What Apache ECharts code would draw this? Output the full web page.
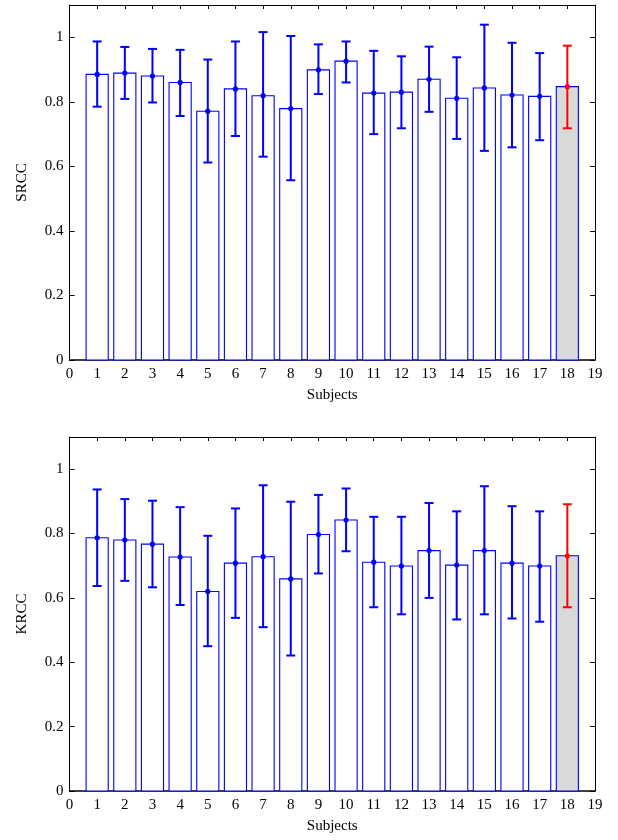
<!DOCTYPE html>
<html>
<head>
<meta charset="utf-8">
<script src="https://cdn.jsdelivr.net/npm/echarts@6/dist/echarts.min.js"></script>
<style>html,body{margin:0;padding:0;background:#fff}#c{width:618px;height:840px}</style>
</head>
<body>
<div id="c"></div>
<script>
var subjects = [1,2,3,4,5,6,7,8,9,10,11,12,13,14,15,16,17,18];
var xTicks = [0,1,2,3,4,5,6,7,8,9,10,11,12,13,14,15,16,17,18,19];
var yTicks = [0,0.2,0.4,0.6,0.8,1];

var srccMean  = [0.885,0.889,0.880,0.860,0.771,0.840,0.819,0.779,0.899,0.926,0.827,0.830,0.870,0.811,0.843,0.821,0.817,0.847];
var srccUpper = [0.987,0.970,0.964,0.961,0.931,0.987,1.016,1.004,0.978,0.987,0.958,0.941,0.971,0.938,1.039,0.983,0.951,0.974];
var srccLower = [0.785,0.809,0.798,0.756,0.612,0.694,0.630,0.557,0.824,0.860,0.700,0.718,0.769,0.685,0.648,0.659,0.681,0.718];

var krccMean  = [0.787,0.780,0.767,0.727,0.620,0.708,0.728,0.659,0.797,0.842,0.711,0.699,0.747,0.702,0.747,0.708,0.699,0.731];
var krccUpper = [0.937,0.907,0.902,0.882,0.793,0.878,0.950,0.899,0.920,0.940,0.852,0.852,0.895,0.869,0.947,0.885,0.869,0.891];
var krccLower = [0.637,0.653,0.633,0.578,0.450,0.538,0.509,0.421,0.676,0.745,0.571,0.549,0.600,0.533,0.549,0.536,0.526,0.571];

var highlight = 18;
var FONT = 'Liberation Serif';
var BLUE = '#0000ff', RED = '#ff0000', GREY = '#d9d9d9';

function toData(m, u, l) {
  return subjects.map(function (s, i) { return [s, m[i], u[i], l[i]]; });
}

var chart = echarts.init(document.getElementById('c'), null, {renderer: 'canvas'});

function mkX(grid, pos, showLabel, name) {
  return {
    type: 'value', gridIndex: grid, position: pos, min: 0, max: 19, interval: 1,
    name: name || '', nameLocation: 'middle', nameGap: 28,
    nameTextStyle: {fontFamily: FONT, fontSize: 15, color: '#000'},
    axisLine: {show: true, onZero: false, lineStyle: {color: '#000', width: pos === 'bottom' ? 1.5 : 1}},
    axisTick: {show: true, inside: true, length: 4, lineStyle: {color: '#000'}},
    axisLabel: {show: showLabel, fontFamily: FONT, fontSize: 15, color: '#000', margin: 7},
    splitLine: {show: false}
  };
}
function mkY(grid, pos, showLabel, name) {
  return {
    type: 'value', gridIndex: grid, position: pos, min: 0, max: 1.1, interval: 0.2,
    name: name || '', nameLocation: 'middle', nameGap: 40,
    nameTextStyle: {fontFamily: FONT, fontSize: 15, color: '#000'},
    axisLine: {show: true, onZero: false, lineStyle: {color: '#000'}},
    axisTick: {show: true, inside: true, length: 5, lineStyle: {color: '#000'}},
    axisLabel: {show: showLabel, fontFamily: FONT, fontSize: 15, color: '#000', margin: 6,
      formatter: function (v) { return yTicks.indexOf(Math.round(v*10)/10) >= 0 ? String(Math.round(v*10)/10) : ''; }},
    splitLine: {show: false}
  };
}

function barSeries(xi, yi, data) {
  return {
    type: 'custom', xAxisIndex: xi, yAxisIndex: yi, data: data, z: 2,
    renderItem: function (params, api) {
      var x = api.value(0), y = api.value(1);
      var p0 = api.coord([x - 0.4, 0]);
      var p1 = api.coord([x + 0.4, y]);
      return {
        type: 'rect',
        shape: {x: p0[0], y: p1[1], width: p1[0] - p0[0], height: p0[1] - p1[1]},
        style: {fill: x === highlight ? GREY : '#fff', stroke: BLUE, lineWidth: 1.1}
      };
    }
  };
}
function errSeries(xi, yi, data) {
  return {
    type: 'custom', xAxisIndex: xi, yAxisIndex: yi, data: data, z: 3,
    renderItem: function (params, api) {
      var x = api.value(0);
      var m = api.coord([x, api.value(1)]);
      var u = api.coord([x, api.value(2)]);
      var l = api.coord([x, api.value(3)]);
      var c = x === highlight ? RED : BLUE;
      var st = {stroke: c, lineWidth: 2};
      var hw = 4.5;
      return {
        type: 'group', children: [
          {type: 'line', shape: {x1: u[0], y1: u[1], x2: l[0], y2: l[1]}, style: st},
          {type: 'line', shape: {x1: u[0]-hw, y1: u[1], x2: u[0]+hw, y2: u[1]}, style: st},
          {type: 'line', shape: {x1: l[0]-hw, y1: l[1], x2: l[0]+hw, y2: l[1]}, style: st},
          {type: 'circle', shape: {cx: m[0], cy: m[1], r: 2.6}, style: {fill: c}}
        ]
      };
    }
  };
}

var d1 = toData(srccMean, srccUpper, srccLower);
var d2 = toData(krccMean, krccUpper, krccLower);

chart.setOption({
  animation: false,
  backgroundColor: '#fff',
  grid: [
    {left: 69.5, right: 23, top: 5, bottom: 480},
    {left: 69.5, right: 23, top: 437, bottom: 49}
  ],
  xAxis: [
    mkX(0, 'bottom', true, 'Subjects'),
    mkX(0, 'top', false),
    mkX(1, 'bottom', true, 'Subjects'),
    mkX(1, 'top', false)
  ],
  yAxis: [
    mkY(0, 'left', true, 'SRCC'),
    mkY(0, 'right', false),
    mkY(1, 'left', true, 'KRCC'),
    mkY(1, 'right', false)
  ],
  series: [
    barSeries(0, 0, d1),
    errSeries(0, 0, d1),
    barSeries(2, 2, d2),
    errSeries(2, 2, d2)
  ]
});
</script>
</body>
</html>
